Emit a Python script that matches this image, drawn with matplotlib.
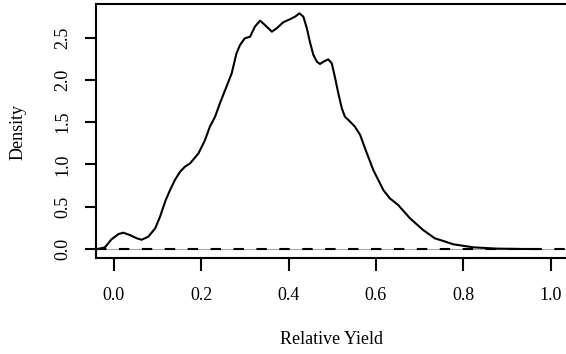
import numpy as np
from matplotlib import pyplot as plt

yield_x = [-0.038, -0.035, -0.020, -0.005, 0.011, 0.022, 0.037, 0.053, 0.064, 0.079,
           0.095, 0.106, 0.119, 0.129, 0.140, 0.152, 0.163, 0.175, 0.194, 0.209,
           0.220, 0.232, 0.243, 0.255, 0.270, 0.281, 0.289, 0.300, 0.312, 0.323,
           0.335, 0.346, 0.362, 0.373, 0.388, 0.403, 0.415, 0.425, 0.434, 0.442,
           0.449, 0.457, 0.465, 0.472, 0.480, 0.491, 0.499, 0.506, 0.514, 0.522,
           0.529, 0.541, 0.552, 0.564, 0.575, 0.594, 0.617, 0.632, 0.651, 0.678,
           0.708, 0.735, 0.758, 0.777, 0.823, 0.876, 0.930, 0.969]
density = [0.000, 0.002, 0.020, 0.115, 0.177, 0.193, 0.165, 0.126, 0.110, 0.145,
           0.245, 0.382, 0.579, 0.697, 0.816, 0.914, 0.973, 1.013, 1.131, 1.288,
           1.446, 1.564, 1.722, 1.879, 2.077, 2.313, 2.411, 2.491, 2.509, 2.628,
           2.699, 2.648, 2.569, 2.609, 2.680, 2.715, 2.746, 2.786, 2.746, 2.609,
           2.447, 2.293, 2.214, 2.187, 2.214, 2.242, 2.195, 2.037, 1.840, 1.663,
           1.564, 1.505, 1.446, 1.348, 1.190, 0.934, 0.697, 0.599, 0.520, 0.363,
           0.225, 0.126, 0.089, 0.056, 0.020, 0.005, 0.001, 0.000]

x_ticks = [0.0, 0.2, 0.4, 0.6, 0.8, 1.0]
y_ticks = [0.0, 0.5, 1.0, 1.5, 2.0, 2.5]

plt.rcParams['font.family'] = ['Liberation Serif', 'DejaVu Serif']
plt.rcParams['font.size'] = 13

W, H = 566, 354
fig = plt.figure(figsize=(W / 100, H / 100), dpi=100)
# область графика: левый край 96px, верх 4px, низ 258px, справа уходит за край
ax = fig.add_axes([96 / W, (H - 258) / H, (568.2 - 96) / W, (258 - 4) / H])

ax.axhline(0, color='#aaaaaa', lw=0.8, zorder=1)
ax.axhline(0, color='k', lw=1.5, ls=(0, (5, 6)), zorder=2)
ax.plot(yield_x, density, 'k', lw=1.5, zorder=3, solid_joinstyle='round')

ax.set_xlim(-0.0405, 1.04)
ax.set_ylim(-0.106, 2.896)
ax.set_xticks(x_ticks)
ax.set_xticklabels(['%.1f' % v for v in x_ticks])
ax.set_yticks(y_ticks)
ax.set_yticklabels(['%.1f' % v for v in y_ticks], rotation=90, va='center')
ax.tick_params(axis='x', direction='out', length=9, width=1.5, pad=12)
ax.tick_params(axis='y', direction='out', length=8, width=1.5, pad=10)
for s in ax.spines.values():
    s.set_linewidth(1.5)

fig.text(332 / W, 1 - 339 / H, 'Relative Yield', ha='center', va='center')
fig.text(18 / W, 1 - 132 / H, 'Density', ha='center', va='center', rotation=90)

fig.savefig('out.png', dpi=100)
